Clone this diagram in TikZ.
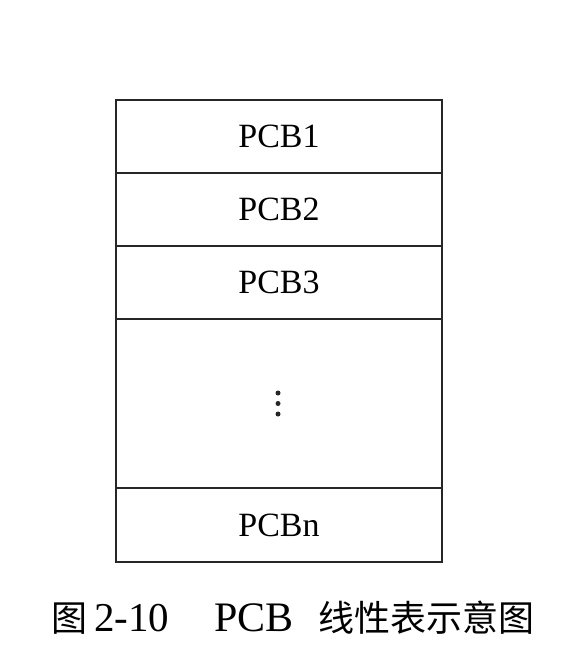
\documentclass[tikz,border=0pt]{standalone}
\usepackage{fontspec}
\setmainfont{Liberation Serif}
\newfontfamily\cjk{Noto Sans CJK SC}
\begin{document}
\begin{tikzpicture}[x=1pt,y=-1pt,
  cell/.style={draw=black!85, line width=1.4pt, minimum width=326pt, inner sep=0pt, outer sep=0pt, font=\fontsize{34}{34}\selectfont},
  dot/.style={circle, fill=black!85, inner sep=0pt, minimum size=5pt},
  captxt/.style={inner sep=0pt, anchor=base west, font=\fontsize{41}{41}\selectfont},
  capcjk/.style={inner sep=0pt, anchor=base west, font=\cjk\fontsize{36}{36}\selectfont}]
\useasboundingbox (0,0) rectangle (565,650);
\node[cell, minimum height=73pt] (p1) at (279,136.5) {PCB1};
\node[cell, minimum height=73pt] (p2) at (279,209.5) {PCB2};
\node[cell, minimum height=73pt] (p3) at (279,282.5) {PCB3};
\node[cell, minimum height=169pt] (pd) at (279,403.5) {};
\node[cell, minimum height=74pt] (pn) at (279,525) {PCBn};
\node[dot] (d1) at (278,393) {};
\node[dot] (d2) at (278,403.5) {};
\node[dot] (d3) at (278,414) {};
\node[capcjk] (c1) at (51,631) {图};
\node[captxt] (c2) at (94,631) {2-10};
\node[captxt, font=\fontsize{42}{42}\selectfont] (c3) at (214,631) {PCB};
\node[capcjk] (c4) at (318,631) {线性表示意图};
\end{tikzpicture}
\end{document}
